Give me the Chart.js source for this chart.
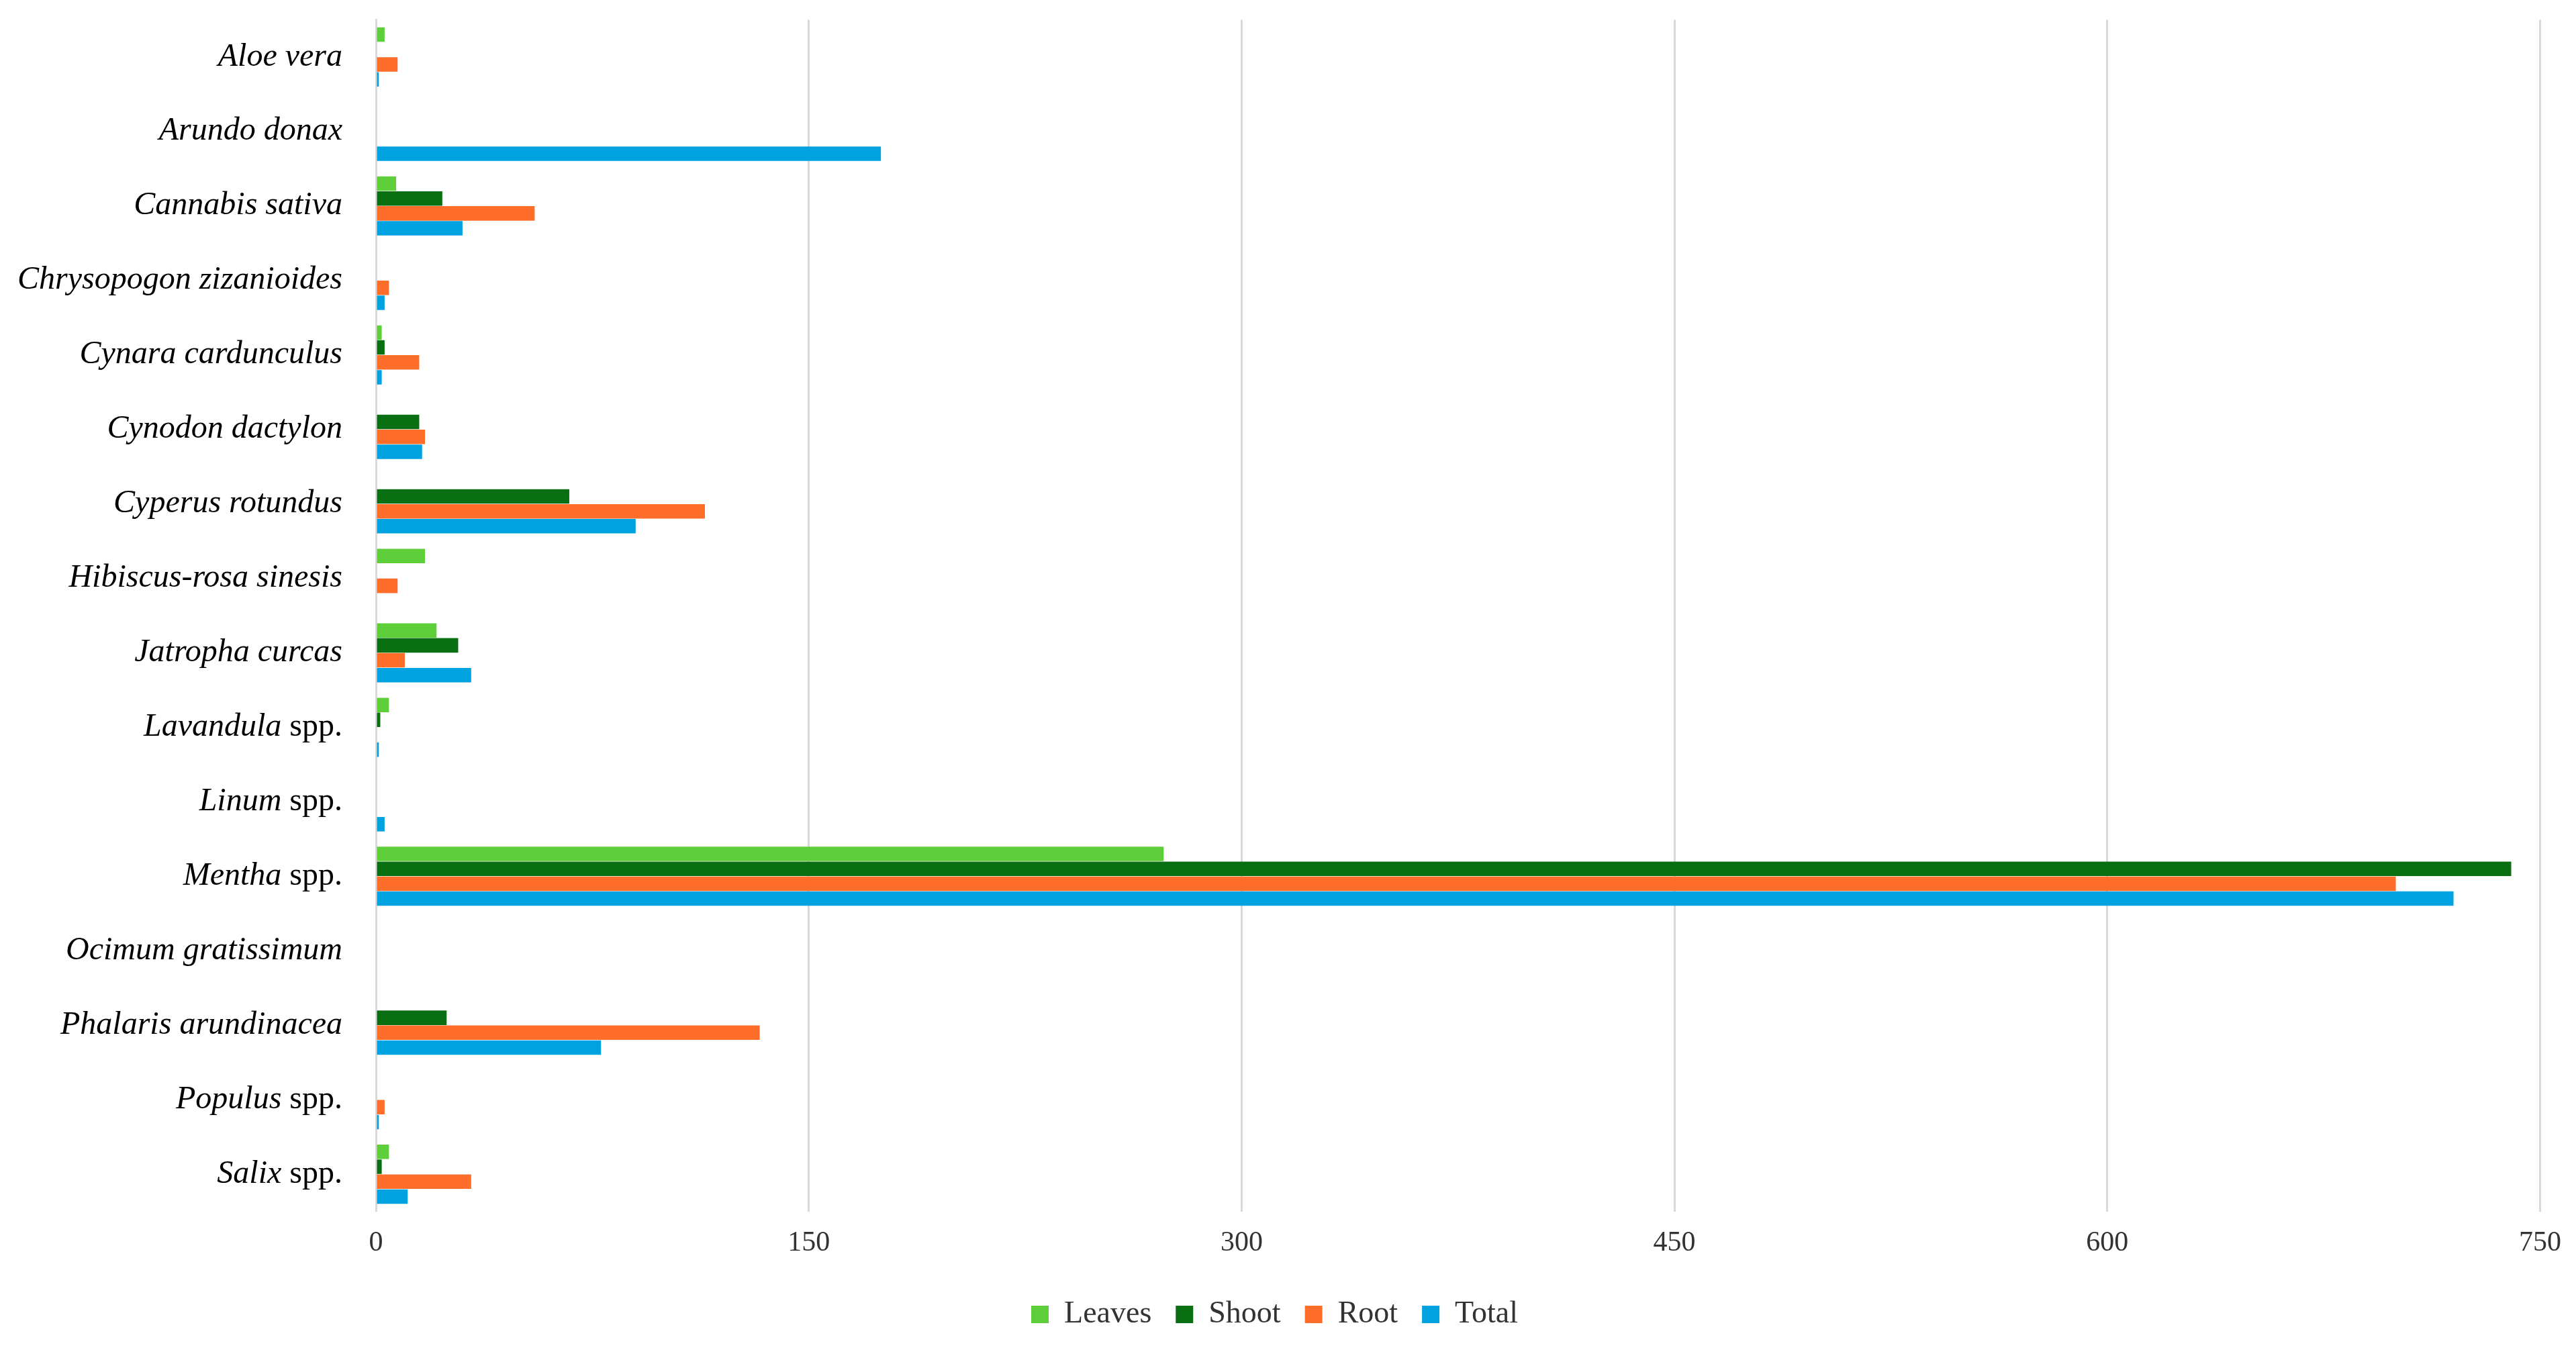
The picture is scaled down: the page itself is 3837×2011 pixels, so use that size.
<!DOCTYPE html>
<html>
<head>
<meta charset="utf-8">
<script src="https://cdn.jsdelivr.net/npm/chart.js@4.4.1/dist/chart.umd.min.js"></script>
<style>
  html, body { margin: 0; padding: 0; background: #fff; }
  #wrap { width: 3837px; height: 2011px; }
</style>
</head>
<body>
<div id="wrap"><canvas id="grafico"></canvas></div>
<script>
// species: [italic part, plain part]
const especies = [
    ['Aloe vera', ''],
    ['Arundo donax', ''],
    ['Cannabis sativa', ''],
    ['Chrysopogon zizanioides', ''],
    ['Cynara cardunculus', ''],
    ['Cynodon dactylon', ''],
    ['Cyperus rotundus', ''],
    ['Hibiscus-rosa sinesis', ''],
    ['Jatropha curcas', ''],
    ['Lavandula', ' spp.'],
    ['Linum', ' spp.'],
    ['Mentha', ' spp.'],
    ['Ocimum gratissimum', ''],
    ['Phalaris arundinacea', ''],
    ['Populus', ' spp.'],
    ['Salix', ' spp.']
];
const folhas = [3, 0, 7, 0, 2, 0, 0, 17, 21, 4.5, 0, 273, 0, 0, 0, 4.5];
const caule  = [0, 0, 23, 0, 3, 15, 67, 0, 28.5, 1.5, 0, 740, 0, 24.5, 0, 2];
const raiz   = [7.5, 0, 55, 4.5, 15, 17, 114, 7.5, 10, 0, 0, 700, 0, 133, 3, 33];
const total  = [1, 175, 30, 3, 2, 16, 90, 0, 33, 1, 3, 720, 0, 78, 1, 11];
const ticksX = [0, 150, 300, 450, 600, 750];

const fonteSerif = '"Liberation Serif", "DejaVu Serif", serif';

const rotulosPlugin = {
    id: 'rotulos',
    afterDraw(chart) {
        const ctx = chart.ctx;
        const y = chart.scales.y;
        ctx.save();
        ctx.textBaseline = 'middle';
        ctx.fillStyle = '#000';
        especies.forEach(function (e, i) {
            const py = y.getPixelForValue(i);
            ctx.font = 'italic 48px ' + fonteSerif;
            const w1 = ctx.measureText(e[0]).width;
            ctx.font = '48px ' + fonteSerif;
            const w2 = ctx.measureText(e[1]).width;
            let x = 510 - w1 - w2;
            ctx.font = 'italic 48px ' + fonteSerif;
            ctx.textAlign = 'left';
            ctx.fillText(e[0], x, py);
            ctx.font = '48px ' + fonteSerif;
            ctx.fillText(e[1], x + w1, py);
        });
        ctx.restore();
    }
};

const dados = {
    labels: especies.map(e => e[0] + e[1]),
    datasets: [
        { label: 'Leaves', data: folhas, backgroundColor: '#5ecf3a' },
        { label: 'Shoot', data: caule, backgroundColor: '#0a6e12' },
        { label: 'Root', data: raiz, backgroundColor: '#ff6d2a' },
        { label: 'Total', data: total, backgroundColor: '#00a2e0' }
    ]
};

const configuracao = {
    type: 'bar',
    data: dados,
    options: {
        indexAxis: 'y',
        responsive: true,
        maintainAspectRatio: false,
        animation: false,
        datasets: { bar: { categoryPercentage: 0.8, barPercentage: 0.97 } },
        layout: { padding: { left: 0, right: 40, top: 25, bottom: 20 } },
        scales: {
            x: {
                min: 0, max: 750,
                afterBuildTicks: function (s) { s.ticks = ticksX.map(v => ({ value: v })); },
                grid: { color: '#d9d9d9', lineWidth: 3, drawTicks: false },
                border: { display: false },
                ticks: { font: { family: fonteSerif, size: 42 }, color: '#333', padding: 22 }
            },
            y: {
                grid: { display: false },
                border: { display: true, color: '#d9d9d9', width: 3 },
                ticks: { color: 'rgba(0,0,0,0)', font: { size: 44 } },
                afterFit: function (s) { s.width = 560; }
            }
        },
        plugins: {
            legend: {
                position: 'bottom',
                labels: {
                    font: { family: fonteSerif, size: 46 },
                    color: '#333',
                    boxWidth: 26, boxHeight: 26,
                    padding: 36
                }
            },
            tooltip: { enabled: false }
        }
    },
    plugins: [rotulosPlugin]
};

new Chart(document.getElementById('grafico'), configuracao);
</script>
</body>
</html>
